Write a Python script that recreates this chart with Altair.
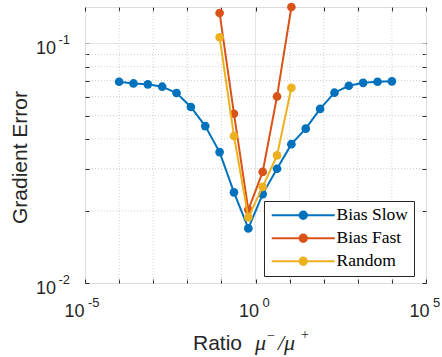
import altair as alt
import pandas as pd

# ---------------- data ----------------
ratio = [1e-4, 2.637e-4, 6.952e-4, 1.833e-3, 4.833e-3, 1.274e-2, 3.360e-2,
         8.859e-2, 0.2336, 0.6158, 1.624, 4.281, 11.29, 29.76, 78.48,
         206.9, 545.6, 1438.0, 3793.0, 1e4]
bias_slow = [0.0692, 0.0681, 0.0675, 0.0660, 0.0621, 0.0543, 0.0452, 0.0352,
             0.0239, 0.0169, 0.0235, 0.0300, 0.0380, 0.0441, 0.0533, 0.0623,
             0.0666, 0.0685, 0.0692, 0.0695]
ratio_short = [8.859e-2, 0.2336, 0.6158, 1.624, 4.281, 11.29]
bias_fast = [0.134, 0.0509, 0.0202, 0.0291, 0.0601, 0.142]
random_err = [0.1062, 0.0411, 0.0188, 0.0252, 0.0341, 0.0653]

series_names = ["Bias Slow", "Bias Fast", "Random"]
series_colors = ["#0072BD", "#D95319", "#EDB120"]

x_ticks = [1e-5, 1e-4, 1e-3, 1e-2, 1e-1, 1.0, 10.0, 100.0, 1e3, 1e4, 1e5]
x_labeled = [1e-5, 1.0, 1e5]
x_minor_grid = [1e-4, 1e-3, 1e-2, 1e-1, 10.0, 100.0, 1e3, 1e4]
x_major_grid = [1.0]
y_ticks = [0.01, 0.02, 0.03, 0.04, 0.05, 0.06, 0.07, 0.08, 0.09, 0.1]
y_labeled = [0.01, 0.1]
y_minor_grid = [0.02, 0.03, 0.04, 0.05, 0.06, 0.07, 0.08, 0.09]
y_major_grid = [0.1]

x_domain = [1e-5, 1e5]
y_domain = [0.01, 0.142]

# ---------------- build tables ----------------
rows = []
for x, v in zip(ratio, bias_slow):
    rows.append({"ratio": x, "err": v, "series": "Bias Slow"})
for x, v in zip(ratio_short, bias_fast):
    rows.append({"ratio": x, "err": v, "series": "Bias Fast"})
for x, v in zip(ratio_short, random_err):
    rows.append({"ratio": x, "err": v, "series": "Random"})
df = pd.DataFrame(rows)

INK = "#262626"
SANS = "Liberation Sans"
SERIF = "Liberation Serif"
W, H = 341, 276

xs = alt.Scale(type="log", domain=x_domain, nice=False)
ys = alt.Scale(type="log", domain=y_domain, nice=False)
cs = alt.Scale(domain=series_names, range=series_colors)

LEG_PATH = ("M-6.3,0H6.3"
            "M0.74,0A0.74,0.74 0 1,0 -0.74,0A0.74,0.74 0 1,0 0.74,0"
            "M0.38,0A0.38,0.38 0 1,0 -0.38,0A0.38,0.38 0 1,0 0.38,0"
            "M0.1,0A0.1,0.1 0 1,0 -0.1,0A0.1,0.1 0 1,0 0.1,0")

legend = alt.Legend(orient="none", legendX=179, legendY=194, title=None,
                    symbolType=LEG_PATH, symbolSize=100, symbolStrokeWidth=2,
                    symbolOffset=25, labelOffset=24.5, labelFont=SERIF,
                    labelFontSize=17.5, labelColor="#000000", padding=5.5,
                    rowPadding=4, strokeColor=INK, fillColor="white", zindex=1)

# ---------------- axes ----------------
ax_bottom_ticks = alt.Axis(orient="bottom", values=x_ticks, offset=-4, tickSize=4,
                           tickColor=INK, tickWidth=1, labels=False, domain=False,
                           grid=False, title=None)
ax_top_ticks = alt.Axis(orient="top", values=x_ticks, offset=-4, tickSize=4,
                        tickColor=INK, tickWidth=1, labels=False, domain=False,
                        grid=False, title=None)
ax_left_ticks = alt.Axis(orient="left", values=y_ticks, offset=-4, tickSize=4,
                         tickColor=INK, tickWidth=1, labels=False, domain=False,
                         grid=False, title=None)
ax_right_ticks = alt.Axis(orient="right", values=y_ticks, offset=-4, tickSize=4,
                          tickColor=INK, tickWidth=1, labels=False, domain=False,
                          grid=False, title=None)

ax_x_base = alt.Axis(orient="bottom", values=x_labeled, ticks=False, tickSize=0,
                     domain=False, grid=False, labelExpr="'10'", labelAlign="right",
                     labelBaseline="alphabetic", labelPadding=33, labelFont=SANS,
                     labelFontSize=18, labelColor=INK, labelOverlap=False,
                     labelFlush=False, labelBound=False,
                     labelOffset={"condition": {"test": "datum.value < 0.001", "value": -1},
                                  "value": 3},
                     title=None)
ax_x_exp = alt.Axis(orient="bottom", values=x_labeled, ticks=False, tickSize=0,
                    domain=False, grid=False,
                    labelExpr="'' + round(log(datum.value) / LN10)",
                    labelAlign="left", labelBaseline="alphabetic", labelPadding=23.5,
                    labelFont=SANS, labelFontSize=13, labelColor=INK,
                    labelOverlap=False, labelFlush=False, labelBound=False,
                    labelOffset={"condition": {"test": "datum.value < 0.001", "value": 2.5},
                                 "value": 6.5},
                    title=None)
ax_y_base = alt.Axis(orient="left", values=y_labeled, ticks=False, tickSize=0,
                     domain=False, grid=False, labelExpr="'10'", labelAlign="right",
                     labelBaseline="alphabetic", labelPadding=29.5, labelOffset=10,
                     labelFont=SANS, labelFontSize=18, labelColor=INK,
                     labelOverlap=False, labelFlush=False, labelBound=False,
                     title="Gradient Error", titleFont=SANS, titleFontSize=21,
                     titleFontWeight="normal", titleColor=INK, titleAngle=270,
                     titleAlign="center", titleBaseline="alphabetic",
                     titleX=-58.5, titleY=150)
ax_y_exp = alt.Axis(orient="left", values=y_labeled, ticks=False, tickSize=0,
                    domain=False, grid=False,
                    labelExpr="'' + round(log(datum.value) / LN10)",
                    labelAlign="left", labelBaseline="alphabetic", labelPadding=27,
                    labelOffset=0, labelFont=SANS, labelFontSize=13, labelColor=INK,
                    labelOverlap=False, labelFlush=False, labelBound=False,
                    title=None)

# ---------------- grid ----------------
def vgrid(vals, dash, color):
    m = alt.Chart(pd.DataFrame({"v": vals}))
    if dash:
        m = m.mark_rule(color=color, strokeWidth=0.8, strokeDash=dash)
    else:
        m = m.mark_rule(color=color, strokeWidth=0.8)
    return m.encode(x=alt.X("v:Q", scale=xs, axis=None))


def hgrid(vals, dash, color):
    m = alt.Chart(pd.DataFrame({"v": vals}))
    if dash:
        m = m.mark_rule(color=color, strokeWidth=0.8, strokeDash=dash)
    else:
        m = m.mark_rule(color=color, strokeWidth=0.8)
    return m.encode(y=alt.Y("v:Q", scale=ys, axis=None))


grid_layers = [
    vgrid(x_minor_grid, [1, 2], "#c4c4c4"),
    vgrid(x_major_grid, None, "#dedede"),
    hgrid(y_minor_grid, [1, 2], "#c4c4c4"),
    hgrid(y_major_grid, None, "#dedede"),
]

# ---------------- series ----------------
def series_line(name, xax, yax):
    return alt.Chart(df).transform_filter(alt.datum.series == name).mark_line(
        strokeWidth=2).encode(
        x=alt.X("ratio:Q", scale=xs, axis=xax),
        y=alt.Y("err:Q", scale=ys, axis=yax),
        color=alt.Color("series:N", scale=cs, legend=legend),
    )


def series_pts(name, xax, yax):
    return alt.Chart(df).transform_filter(alt.datum.series == name).mark_circle(
        size=75, opacity=1).encode(
        x=alt.X("ratio:Q", scale=xs, axis=xax),
        y=alt.Y("err:Q", scale=ys, axis=yax),
        color=alt.Color("series:N", scale=cs, legend=legend),
    )


series_layers = [
    series_line("Bias Slow", ax_bottom_ticks, ax_left_ticks),
    series_pts("Bias Slow", ax_x_base, ax_y_base),
    series_line("Bias Fast", ax_x_exp, ax_y_exp),
    series_pts("Bias Fast", ax_top_ticks, ax_right_ticks),
    series_line("Random", None, None),
    series_pts("Random", None, None),
]

# ---------------- x title (mixed fonts) ----------------
def tpart(txt, px, py, font, size, style):
    return alt.Chart(pd.DataFrame({"t": [txt]})).mark_text(
        align="left", baseline="alphabetic", font=font, fontSize=size,
        fontStyle=style, color=INK).encode(
        text="t:N", x=alt.value(px), y=alt.value(py))


title_layers = [
    tpart("Ratio", 108, 343, SANS, 21, "normal"),
    tpart("μ", 170, 343, SERIF, 22, "italic"),
    tpart("−", 182, 333, SERIF, 14, "normal"),
    tpart("/μ", 193, 343, SERIF, 22, "italic"),
    tpart("+", 216, 332, SERIF, 14, "normal"),
]

chart = alt.layer(*grid_layers, *series_layers, *title_layers).resolve_axis(
    x="independent", y="independent"
).properties(
    width=W, height=H,
    autosize=alt.AutoSizeParams(type="none"),
    padding={"left": 85, "top": 7, "right": 16, "bottom": 74},
).configure_view(stroke=INK, strokeWidth=1).configure(background="white")

chart.save("out.html", embed_options={"renderer": "svg", "actions": False})
